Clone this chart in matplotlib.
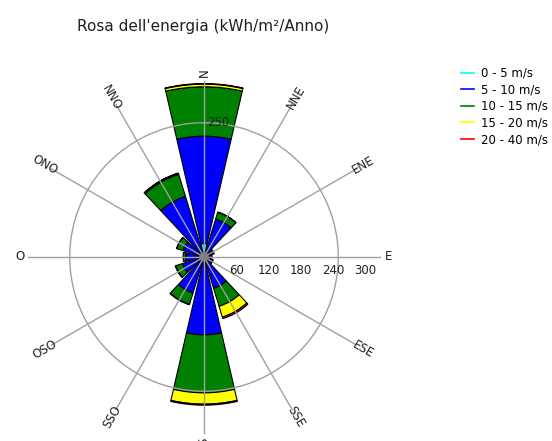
import numpy as np
import matplotlib
matplotlib.use("Agg")
import matplotlib.pyplot as plt
from matplotlib.lines import Line2D

# Sector directions (compass degrees, clockwise from north)
directions = ["N", "NNE", "ENE", "E", "ESE", "SSE", "S", "SSO", "OSO", "O", "ONO", "NNO"]
angles_deg = [0, 30, 60, 90, 120, 150, 180, 210, 240, 270, 300, 330]

# Energy per sector and wind-speed class (kWh/m²/anno)
speed_classes = ["0 - 5 m/s", "5 - 10 m/s", "10 - 15 m/s", "15 - 20 m/s", "20 - 40 m/s"]
class_colors = ["#00FFFF", "#0000FF", "#008000", "#FFFF00", "#FF0000"]

e_0_5 = [25, 6, 4, 4, 4, 5, 8, 5, 4, 4, 4, 6]
e_5_10 = [200, 68, 14, 11, 13, 56, 137, 65, 38, 30, 37, 112]
e_10_15 = [92, 13, 2, 0, 1, 35, 108, 22, 13, 5, 12, 43]
e_15_20 = [5, 0.5, 0, 0, 0, 21, 21, 1, 1, 0, 0.5, 2]
e_20_40 = [1, 0, 0, 0, 0, 3, 2, 0, 0, 0, 0, 0.5]

radial_ticks = [60, 120, 180, 240, 300]
ring_value = 250

title = "Rosa dell'energia (kWh/m²/Anno)"

# ---------------------------------------------------------------------------
W, H = 552, 441
fig = plt.figure(figsize=(W / 100, H / 100), dpi=100)
fig.patch.set_facecolor("white")

r_max = 350
cx, cy = 204, 257          # pixel position of the rose centre
rad_px = r_max * 0.537
ax = fig.add_axes([(cx - rad_px) / W, (H - cy - rad_px) / H,
                   2 * rad_px / W, 2 * rad_px / H], projection="polar")
ax.set_theta_zero_location("N")
ax.set_theta_direction(-1)
ax.set_ylim(0, r_max)
ax.set_axis_off()

theta = np.deg2rad(angles_deg)
width = np.deg2rad(26)

layers = [e_0_5, e_5_10, e_10_15, e_15_20, e_20_40]
bottom = np.zeros(len(theta))
for vals, col in zip(layers, class_colors):
    vals = np.asarray(vals, dtype=float)
    m = vals > 0
    ax.bar(theta[m], vals[m], width=width, bottom=bottom[m], color=col,
           edgecolor="black", linewidth=0.8, zorder=2)
    bottom += vals

# spokes and reference ring
grid_col = "#A0A0A0"
for th in theta:
    ax.plot([th, th], [0, 328], color=grid_col, lw=1.0, zorder=3)
ring_t = np.linspace(0, 2 * np.pi, 361)
ax.plot(ring_t, np.full_like(ring_t, ring_value), color=grid_col, lw=1.0, zorder=3)

# calm disc at the centre
ax.bar(0, 9, width=2 * np.pi, bottom=0, color="#808080", edgecolor="none", zorder=4)

# direction labels, rotated along their spoke
for name, a in zip(directions, angles_deg):
    rot = 90 - a
    while rot <= -90:
        rot += 180
    while rot > 90:
        rot -= 180
    ax.text(np.deg2rad(a), 343, name, rotation=rot, rotation_mode="anchor",
            ha="center", va="center", fontsize=8.5, color="#202020")

# radial scale along the east spoke
for v in radial_ticks:
    ax.annotate(str(v), xy=(np.pi / 2, v), xytext=(0, -13), textcoords="offset pixels",
                ha="center", va="center", fontsize=8.5, color="#202020")
ax.annotate(str(ring_value), xy=(0, ring_value), xytext=(3, 0), textcoords="offset pixels",
            ha="left", va="center", fontsize=8.5, color="#202020")

fig.text(203 / W, 1 - 27 / H, title, ha="center", va="center",
         fontsize=11, color="#202020")

handles = [Line2D([0], [0], color=c, lw=1.2) for c in class_colors]
fig.legend(handles, speed_classes, loc="upper left",
           bbox_to_anchor=(455 / W, 1 - 61 / H), frameon=False, fontsize=8.5,
           handlelength=1.1, handletextpad=0.6, labelspacing=0.3, borderpad=0)

fig.savefig("out.png", dpi=100)
